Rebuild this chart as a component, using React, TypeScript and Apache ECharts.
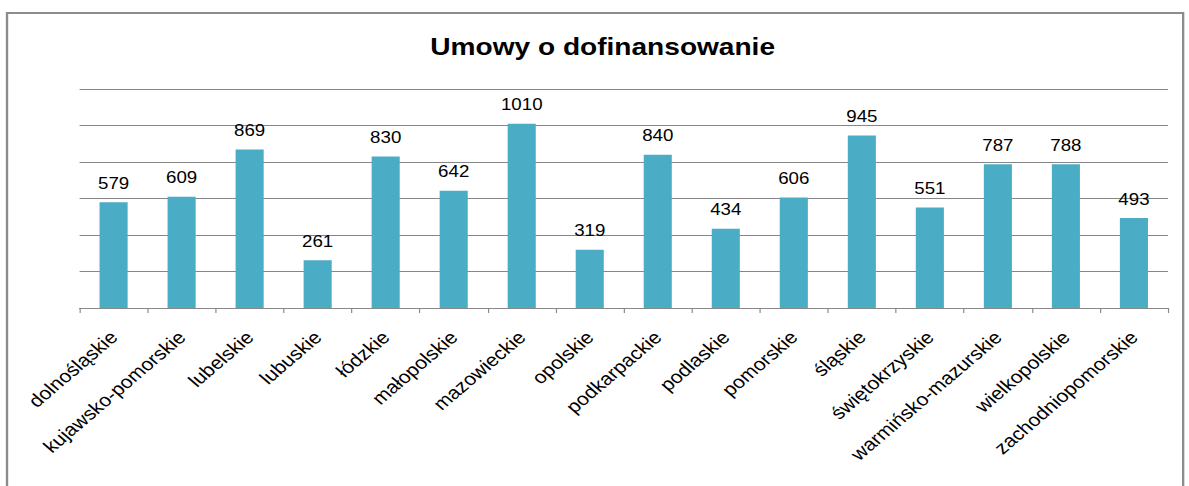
import React, { useEffect, useRef } from "react";
import * as echarts from "echarts";

const categories = [
  "dolnośląskie",
  "kujawsko-pomorskie",
  "lubelskie",
  "lubuskie",
  "łódzkie",
  "małopolskie",
  "mazowieckie",
  "opolskie",
  "podkarpackie",
  "podlaskie",
  "pomorskie",
  "śląskie",
  "świętokrzyskie",
  "warmińsko-mazurskie",
  "wielkopolskie",
  "zachodniopomorskie",
];
const values = [579, 609, 869, 261, 830, 642, 1010, 319, 840, 434, 606, 945, 551, 787, 788, 493];
const titleText = "Umowy o dofinansowanie";

// The reference picture is stretched horizontally; render narrower and stretch.
const STRETCH = 1189 / 1016;
const W = 1016;
const H = 486;
const FONT = "Liberation Sans, Arial, sans-serif";

export default function App() {
  const ref = useRef<HTMLDivElement>(null);
  useEffect(() => {
    if (!ref.current) return;
    const chart = echarts.init(ref.current, null, { renderer: "svg" });
    chart.setOption({
      animation: false,
      backgroundColor: "#ffffff",
      graphic: [
        {
          type: "rect",
          shape: { x: 6, y: 13, width: 1005, height: 520 },
          style: { fill: "none", stroke: "#8c8c8c", lineWidth: 2 },
          silent: true,
        },
        {
          type: "text",
          x: 515,
          y: 47,
          style: {
            text: titleText,
            align: "center",
            verticalAlign: "middle",
            font: "bold 24px " + FONT,
            fill: "#000000",
          },
          silent: true,
        },
      ],
      grid: { left: 68, right: 18, top: 89, bottom: 178, containLabel: false },
      xAxis: {
        type: "category",
        data: categories,
        axisLine: { show: true, lineStyle: { color: "#888888", width: 1 } },
        axisTick: { show: true, length: 5, lineStyle: { color: "#888888" } },
        axisLabel: {
          rotate: 45,
          interval: 0,
          margin: 26,
          fontFamily: FONT,
          fontSize: 18,
          color: "#000000",
        },
      },
      yAxis: {
        type: "value",
        min: 0,
        max: 1200,
        interval: 200,
        axisLine: { show: false },
        axisTick: { show: false },
        axisLabel: { show: false },
        splitLine: { show: true, lineStyle: { color: "#868686", width: 1 } },
      },
      series: [
        {
          type: "bar",
          data: values,
          barWidth: 24,
          itemStyle: { color: "#4BACC6" },
          label: {
            show: true,
            position: "top",
            distance: 11,
            fontFamily: FONT,
            fontSize: 16,
            color: "#000000",
          },
        },
      ],
    });
    return () => chart.dispose();
  }, []);
  return (
    <div
      ref={ref}
      style={{
        position: "fixed",
        left: 0,
        top: 0,
        width: W,
        height: H,
        transform: `scaleX(${STRETCH})`,
        transformOrigin: "0 0",
      }}
    />
  );
}
